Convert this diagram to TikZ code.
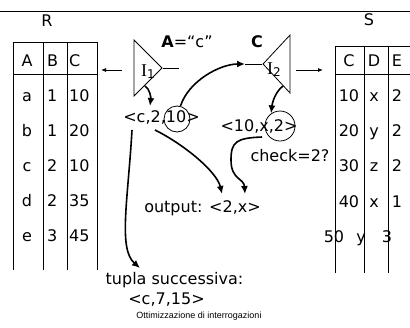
\documentclass[tikz,border=0pt]{standalone}
\usepackage{fontspec}
\setmainfont{DejaVu Sans}
\newfontfamily\serifI{Liberation Serif}
\newfontfamily\footfont{Liberation Sans}
\usetikzlibrary{shapes.geometric,arrows.meta}
\newcommand{\Iname}[1]{{\serifI\fontsize{18}{18}\selectfont I}\raisebox{-2pt}{\fontsize{12}{12}\selectfont #1}}

\begin{document}
\begin{tikzpicture}[x=1pt, y=-1pt,
    lab/.style={inner sep=0, text height=12pt, text depth=3.5pt, font=\fontsize{16}{19}\selectfont},
    cell/.style={lab},
    rule/.style={line width=0.8pt},
    tri/.style={draw, line width=0.8pt, isosceles triangle, isosceles triangle stretches,
                inner sep=0, minimum width=56pt, minimum height=28pt},
    ring/.style={draw, circle, line width=0.8pt, inner sep=0},
    ptr/.style={line width=0.8pt, -{Latex[length=5pt,width=4pt]}},
    flow/.style={line width=1.6pt, -{Latex[length=8pt,width=7pt]}}
]
\useasboundingbox (0,0) rectangle (410,327);
\draw[rule] (0,11) -- (410,11);
% ---------------- relation R ----------------
\node[lab] (Rname) at (47,22) {R};
\draw[rule] (13,270) -- (13,42) -- (97,42) -- (97,270);
\draw[rule] (43,42) -- (43,270);
\draw[rule] (67,42) -- (67,270);
\draw[rule] (13,74) -- (97,74);
\node[cell] (RA) at (27,62) {A};  \node[cell, anchor=west] (RB) at (47,62) {B};  \node[cell, anchor=west] (RC) at (69,62) {C};
\node[cell] (Ra1) at (27,97) {a};  \node[cell, anchor=west] (Ra2) at (47,97) {1};  \node[cell, anchor=west] (Ra3) at (69,97) {10};
\node[cell] (Rb1) at (27,132) {b}; \node[cell, anchor=west] (Rb2) at (47,132) {1}; \node[cell, anchor=west] (Rb3) at (69,132) {20};
\node[cell] (Rc1) at (27,167) {c}; \node[cell, anchor=west] (Rc2) at (47,167) {2}; \node[cell, anchor=west] (Rc3) at (69,167) {10};
\node[cell] (Rd1) at (27,202) {d}; \node[cell, anchor=west] (Rd2) at (47,202) {2}; \node[cell, anchor=west] (Rd3) at (69,202) {35};
\node[cell] (Re1) at (27,237) {e}; \node[cell, anchor=west] (Re2) at (47,237) {3}; \node[cell, anchor=west] (Re3) at (69,237) {45};
% ---------------- relation S ----------------
\node[lab] (Sname) at (369,21) {S};
\draw[rule] (335,273) -- (335,46) -- (410,46);
\draw[rule] (364,46) -- (364,273);
\draw[rule] (388,46) -- (388,273);
\draw[rule] (335,74) -- (410,74);
\node[cell] (SC) at (349,62) {C};  \node[cell] (SD) at (374,62) {D};  \node[cell] (SE) at (397,62) {E};
\node[cell] (S11) at (349,97) {10};  \node[cell] (S12) at (374,97) {x};  \node[cell] (S13) at (397,97) {2};
\node[cell] (S21) at (349,132) {20}; \node[cell] (S22) at (374,132) {y}; \node[cell] (S23) at (397,132) {2};
\node[cell] (S31) at (349,167) {30}; \node[cell] (S32) at (374,167) {z}; \node[cell] (S33) at (397,167) {2};
\node[cell] (S41) at (349,203) {40}; \node[cell] (S42) at (374,203) {x}; \node[cell] (S43) at (397,203) {1};
\node[cell] (S51) at (334,238) {50}; \node[cell] (S52) at (361,238) {y}; \node[cell] (S53) at (387,238) {3};
% ---------------- indexes ----------------
\node[tri, anchor=apex] (I1) at (163,68) {};
\node[lab] (I1name) at (148,72) {\Iname{1}};
\node[tri, shape border rotate=180, anchor=apex, minimum width=58pt, minimum height=27pt] (I2) at (262,64) {};
\node[lab] (I2name) at (274,70) {\Iname{2}};
\node[lab] (cond1) at (187,43) {\textbf{A}=“c”};
\node[lab] (cond2) at (257,43) {\textbf{C}};
\coordinate (I1out) at (179,68);
\coordinate (I2in) at (245,64);
\coordinate (I1left) at (122,70);
\coordinate (Rin) at (101,70);
\coordinate (I2right) at (296,70);
\coordinate (Sin) at (323,70);
\draw[rule] (I1.apex) -- (I1out);
\draw[rule] (I2in) -- (I2.apex);
\draw[ptr] (I1left) -- (Rin);
\draw[ptr] (I2right) -- (Sin);
% ---------------- tuples ----------------
\node[lab] (t1) at (161.5,118) {<c,2,10>};
\node[ring, minimum size=26pt] (c10) at (177,119) {};
\node[lab] (t2) at (259,127) {<10,x,2>};
\node[ring, minimum size=30pt] (cx) at (280,126) {};
\node[lab] (chk) at (290,157) {check=2?};
\node[lab] (out) at (202.5,208) {output: <2,x>};
\node[lab] (next) at (174.5,280) {tupla successiva:};
\node[lab] (nextval) at (166.5,300) {<c,7,15>};
\node[inner sep=0, font=\footfont\fontsize{9}{11}\selectfont] (foot) at (199,316) {Ottimizzazione di interrogazioni};
% ---------------- flow ----------------
\coordinate (I1foot) at (145,86);
\coordinate (t1top) at (150,106);
\coordinate (I2foot) at (283,86);
\coordinate (t1lt) at (132,130);
\coordinate (t1two) at (155,130);
\coordinate (t2x) at (262,137);
\coordinate (outtwo) at (222,194);
\coordinate (outx) at (245,194);
\coordinate (nexttop) at (140,268);
\draw[flow] (I1foot) .. controls +(5,3) and +(1,-8) .. (t1top);
\draw[flow] (c10.75) .. controls +(8,-25) and +(-25,0) .. (I2in);
\draw[flow] (I2foot) .. controls +(-8,6) and +(1,-10) .. (cx.125);
\draw[flow] (t1two) .. controls +(30,15) and +(-5,-22) .. (outtwo);
\draw[flow] (t2x) .. controls (236,138) and (231,142) .. (231,160)
                 .. controls (231,180) and (244,178) .. (outx);
\draw[flow] (t1lt) .. controls +(-4,70) and +(-22,-19) .. (nexttop);
\end{tikzpicture}
\end{document}
